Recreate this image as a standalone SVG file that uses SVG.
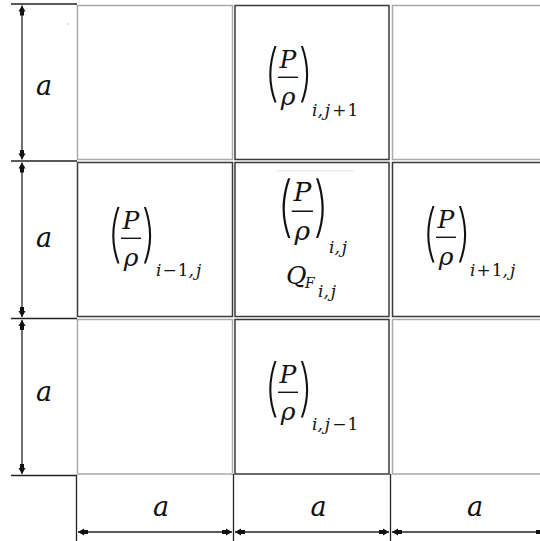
<svg xmlns="http://www.w3.org/2000/svg" width="540" height="541" viewBox="0 0 540 541">
<style>
.bg{fill:#fff}
.cd{fill:none;stroke:#3a3a3a;stroke-width:1.5}
.cg{fill:none;stroke:#aaaaaa;stroke-width:1.5}
.ln{stroke:#222;stroke-width:1.3;fill:none}
.dim{stroke:#222;stroke-width:1.3;fill:none;marker-start:url(#arr);marker-end:url(#arr)}
.m{font-family:"DejaVu Serif","Liberation Serif",serif;font-style:italic;fill:#111}
.up{font-style:normal}
.par{font-family:Inter,"Liberation Sans",sans-serif;font-weight:200;font-size:62px;fill:#111}
.bar{stroke:#111;stroke-width:1.4}
</style>
<defs>
<marker id="arr" viewBox="-10 -4 10 8" refX="0" refY="0" markerWidth="10" markerHeight="8" markerUnits="userSpaceOnUse" orient="auto-start-reverse">
<path d="M-10,-2 h4.5 v4 h-4.5 z M-6,-3.5 L0,0 L-6,3.5 z" fill="#111"/>
</marker>
<g id="frac">
<text class="par" transform="translate(-1,49) scale(0.75,1)">(</text>
<text class="m" x="23" y="23" font-size="25" text-anchor="middle">P</text>
<line class="bar" x1="13" y1="32.3" x2="33" y2="32.3"/>
<text class="m" x="23" y="59.5" font-size="25" text-anchor="middle">ρ</text>
<text class="par" transform="translate(33,49) scale(0.75,1)">)</text>
</g>
</defs>
<rect class="bg" x="0" y="0" width="540" height="541"/>

<g id="cell-0-0"><rect class="cg" x="77.5" y="5.5" width="155" height="154"/></g>
<g id="cell-2-0"><rect class="cg" x="392.5" y="5.5" width="155" height="154"/></g>
<g id="cell-0-2"><rect class="cg" x="77.5" y="319.5" width="155" height="154.5"/></g>
<g id="cell-2-2"><rect class="cg" x="392.5" y="319.5" width="155" height="154.5"/></g>

<g id="cell-top">
<rect class="cd" x="235" y="5.5" width="154" height="154"/>
<use href="#frac" transform="translate(265,45)"/>
<text class="m" x="312" y="116" font-size="17">i,<tspan dx="2">j</tspan><tspan class="up" dx="2">+</tspan><tspan class="up" dx="1">1</tspan></text>
</g>

<g id="cell-left">
<rect class="cd" x="77.5" y="162.5" width="155" height="154"/>
<use href="#frac" transform="translate(108,206)"/>
<text class="m" x="156" y="276" font-size="17">i<tspan class="up" dx="1">−</tspan><tspan class="up" dx="1">1</tspan>,<tspan dx="2">j</tspan></text>
</g>

<g id="cell-center">
<rect class="cd" x="235" y="162.5" width="154" height="154"/>
<line x1="277" y1="170.7" x2="354" y2="170.7" stroke="#e2e2e2" stroke-width="1"/>
<use href="#frac" transform="translate(278,177) scale(1.06)"/>
<text class="m" x="329" y="253" font-size="17">i,<tspan dx="2">j</tspan></text>
<text class="m" x="286" y="284" font-size="25">Q</text>
<text class="m" x="305" y="288" font-size="14">F</text>
<text class="m" x="318" y="297" font-size="17">i,<tspan dx="2">j</tspan></text>
</g>

<g id="cell-right">
<rect class="cd" x="392.5" y="162.5" width="155" height="154"/>
<use href="#frac" transform="translate(423,205)"/>
<text class="m" x="470" y="276" font-size="17">i<tspan class="up" dx="1">+</tspan><tspan class="up" dx="1">1</tspan>,<tspan dx="2">j</tspan></text>
</g>

<g id="cell-bottom">
<rect class="cd" x="235" y="319.5" width="154" height="154.5"/>
<use href="#frac" transform="translate(265,360)"/>
<text class="m" x="312" y="430" font-size="17">i,<tspan dx="2">j</tspan><tspan class="up" dx="2">−</tspan><tspan class="up" dx="1">1</tspan></text>
</g>

<g id="connectors">
<line class="ln" x1="11" y1="4" x2="77" y2="4"/>
<line class="ln" x1="11" y1="161" x2="77" y2="161"/>
<line class="ln" x1="11" y1="318.5" x2="77" y2="318.5"/>
<line class="ln" x1="11" y1="475.5" x2="77" y2="475.5"/>
<line class="ln" x1="76.5" y1="475" x2="76.5" y2="541"/>
<line class="ln" x1="233.5" y1="474" x2="233.5" y2="541"/>
<line class="ln" x1="390.5" y1="474" x2="390.5" y2="541"/>
<line class="dim" x1="22" y1="5.5" x2="22" y2="159.5"/>
<line class="dim" x1="22" y1="162.5" x2="22" y2="317"/>
<line class="dim" x1="22" y1="320" x2="22" y2="474"/>
<line class="dim" x1="78" y1="532" x2="232" y2="532"/>
<line class="dim" x1="235" y1="532" x2="389" y2="532"/>
<line class="dim" x1="392" y1="532" x2="546" y2="532"/>
</g>

<g id="labels">
<text class="m" x="44" y="95" font-size="27" text-anchor="middle">a</text>
<text class="m" x="44" y="247" font-size="27" text-anchor="middle">a</text>
<text class="m" x="44" y="401" font-size="27" text-anchor="middle">a</text>
<text class="m" x="161" y="516" font-size="27" text-anchor="middle">a</text>
<text class="m" x="318.5" y="516" font-size="27" text-anchor="middle">a</text>
<text class="m" x="475" y="516" font-size="27" text-anchor="middle">a</text>
</g>
<rect x="67.5" y="23.5" width="1" height="1" fill="#777"/>
</svg>
